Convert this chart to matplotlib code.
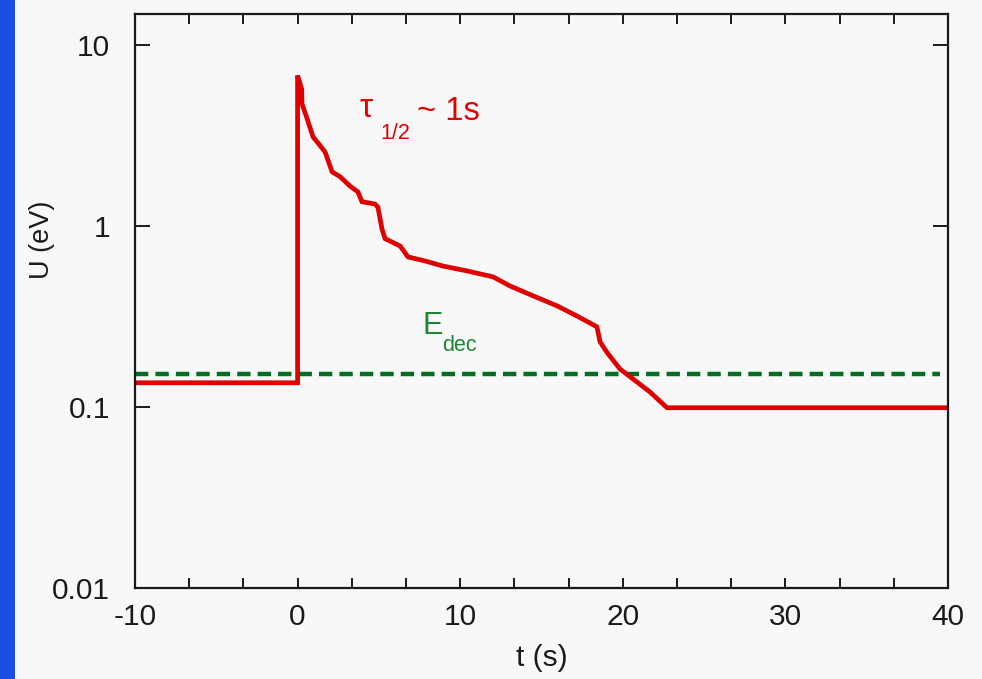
import matplotlib
matplotlib.use("Agg")
import matplotlib.pyplot as plt
from matplotlib.patches import Rectangle
from matplotlib.ticker import FixedLocator, NullLocator, FixedFormatter

# ── data ────────────────────────────────────────────────────────────────────
t_vals = [-10, 0.0, 0.0, 0.25, 0.27, 0.52, 0.95, 1.38, 1.69, 2.12, 2.61,
          3.22, 3.71, 3.96, 4.76, 4.94, 5.19, 5.38, 6.30, 6.79, 7.84,
          8.94, 10.42, 12.02, 13.06, 14.48, 15.95, 17.18, 18.41, 18.60,
          19.03, 19.83, 21.67, 22.72, 40]
u_vals = [0.136, 0.136, 6.77, 5.71, 4.72, 4.07, 3.10, 2.78, 2.56, 1.99,
          1.87, 1.66, 1.54, 1.36, 1.32, 1.27, 0.96, 0.85, 0.775, 0.674,
          0.64, 0.60, 0.564, 0.523, 0.466, 0.411, 0.362, 0.318, 0.277,
          0.229, 0.20, 0.162, 0.121, 0.099, 0.099]

e_dec = 0.152
e_dec_span = [-10, 39.5]

x_ticks = [-10, 0, 10, 20, 30, 40]
x_labels = ["-10", "0", "10", "20", "30", "40"]
x_minor = [-6.667, -3.333, 3.333, 6.667, 13.333, 16.667, 23.333, 26.667,
           33.333, 36.667]
y_ticks = [0.01, 0.1, 1, 10]
y_labels = ["0.01", "0.1", "1", "10"]

# ── style ───────────────────────────────────────────────────────────────────
BG = "#f8f8f8"
RED = "#e00000"
GREEN = "#006e20"
INK = "#1a1a1a"
plt.rcParams["font.family"] = ["Liberation Sans", "DejaVu Sans"]

fig = plt.figure(figsize=(9.82, 6.79), dpi=100)
fig.patch.set_facecolor(BG)
fig.patches.append(Rectangle((0, 0), 15 / 982, 1, transform=fig.transFigure,
                             facecolor="#1a4fe2", edgecolor="none"))

ax = fig.add_axes([135 / 982, 1 - 588 / 679, 813 / 982, 574 / 679])
ax.set_facecolor(BG)

ax.plot(e_dec_span, [e_dec, e_dec], color=GREEN, lw=3.2, ls=(0, (3, 1.6)),
        dash_capstyle="butt")
ax.plot(t_vals, u_vals, color=RED, lw=3.4, solid_joinstyle="miter")

ax.set_yscale("log")
ax.set_xlim(-10, 40)
ax.set_ylim(0.01, 14.8)

ax.xaxis.set_major_locator(FixedLocator(x_ticks))
ax.xaxis.set_major_formatter(FixedFormatter(x_labels))
ax.xaxis.set_minor_locator(FixedLocator(x_minor))
ax.yaxis.set_major_locator(FixedLocator(y_ticks))
ax.yaxis.set_major_formatter(FixedFormatter(y_labels))
ax.yaxis.set_minor_locator(NullLocator())

for s in ax.spines.values():
    s.set_linewidth(1.6)
    s.set_color(INK)

ax.tick_params(axis="x", which="both", direction="in", top=True, length=7.5,
               width=1.4, labelsize=21.5, pad=11, colors=INK)
ax.tick_params(axis="y", which="both", direction="in", right=True,
               length=11, width=1.4, labelsize=21.5, pad=18, colors=INK)

ax.set_xlabel("t (s)", fontsize=21.5, color=INK)
ax.xaxis.set_label_coords(0.5, -0.097)
ax.set_ylabel("U (eV)", fontsize=19.5, color=INK)
ax.yaxis.set_label_coords(-0.098, 0.606)

# annotations
ax.text(3.84, 4.0, "τ", color=RED, fontsize=24, ha="left", va="baseline")
ax.text(5.07, 3.02, "1/2", color=RED, fontsize=15.5, ha="left",
        va="baseline")
ax.text(7.34, 3.85, "~ 1s", color=RED, fontsize=23.5, ha="left",
        va="baseline")
ax.text(7.71, 0.253, "E", color="#1c8636", fontsize=22, ha="left",
        va="baseline")
ax.text(8.88, 0.204, "dec", color="#1c8636", fontsize=15.5, ha="left",
        va="baseline")

plt.savefig("out.png", dpi=100, facecolor=fig.get_facecolor())
plt.close()
